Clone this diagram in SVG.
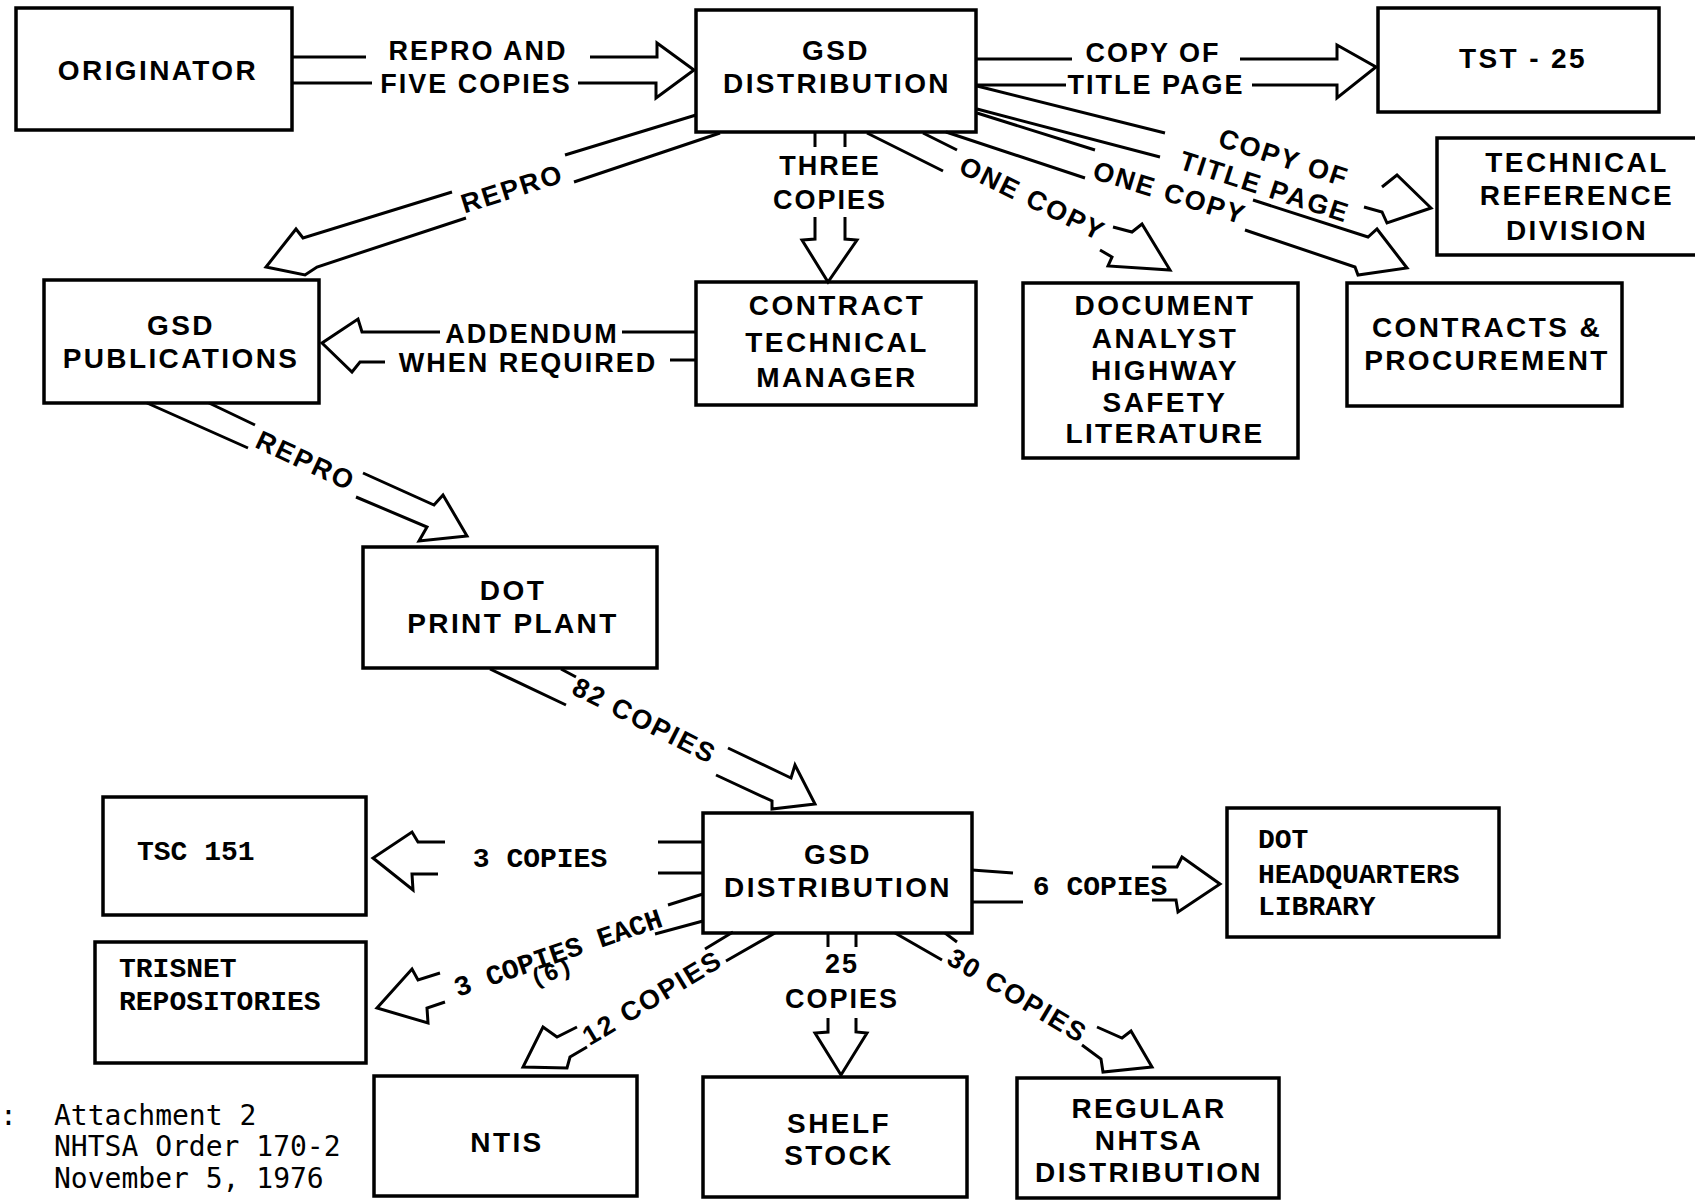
<svg xmlns="http://www.w3.org/2000/svg" width="1695" height="1201" viewBox="0 0 1695 1201">
<style>
.box{fill:none;stroke:#000;stroke-width:3.5}
.c{fill:none;stroke:#000;stroke-width:3;stroke-linejoin:miter;stroke-linecap:butt}
.t{font-family:"Liberation Sans",Arial,sans-serif;font-weight:bold;font-size:28px;letter-spacing:2.4px;fill:#000;text-anchor:middle}
.l{font-family:"Liberation Sans",Arial,sans-serif;font-weight:bold;font-size:27px;letter-spacing:2px;fill:#000;text-anchor:middle}
.m{font-family:"Liberation Mono","Courier New",monospace;font-weight:bold;font-size:28px;fill:#000}
.f{font-family:"DejaVu Sans Mono",monospace;font-size:28px;fill:#000}
</style>
<rect width="1695" height="1201" fill="#fff"/>

<g id="originator"><rect class="box" x="16" y="8" width="276" height="122"/><text class="t" x="158" y="80">ORIGINATOR</text></g>
<g id="gsd-distribution-top"><rect class="box" x="696" y="10" width="280" height="122"/><text class="t" x="836" y="60">GSD</text><text class="t" x="837" y="93">DISTRIBUTION</text></g>
<g id="tst-25"><rect class="box" x="1378" y="8" width="281" height="104"/><text class="t" x="1523" y="68">TST - 25</text></g>
<g id="technical-reference-division"><rect class="box" x="1437" y="138" width="270" height="117"/><text class="t" x="1577" y="172">TECHNICAL</text><text class="t" x="1577" y="205">REFERENCE</text><text class="t" x="1577" y="240">DIVISION</text></g>
<g id="gsd-publications"><rect class="box" x="44" y="280" width="275" height="123"/><text class="t" x="181" y="335">GSD</text><text class="t" x="181" y="368">PUBLICATIONS</text></g>
<g id="contract-technical-manager"><rect class="box" x="696" y="282" width="280" height="123"/><text class="t" x="837" y="315">CONTRACT</text><text class="t" x="837" y="352">TECHNICAL</text><text class="t" x="837" y="387">MANAGER</text></g>
<g id="document-analyst"><rect class="box" x="1023" y="283" width="275" height="175"/><text class="t" x="1165" y="315">DOCUMENT</text><text class="t" x="1165" y="348">ANALYST</text><text class="t" x="1165" y="380">HIGHWAY</text><text class="t" x="1165" y="412">SAFETY</text><text class="t" x="1165" y="443">LITERATURE</text></g>
<g id="contracts-procurement"><rect class="box" x="1347" y="283" width="275" height="123"/><text class="t" x="1487" y="337">CONTRACTS &amp;</text><text class="t" x="1487" y="370">PROCUREMENT</text></g>
<g id="dot-print-plant"><rect class="box" x="363" y="547" width="294" height="121"/><text class="t" x="513" y="600">DOT</text><text class="t" x="513" y="633">PRINT PLANT</text></g>
<g id="gsd-distribution-bottom"><rect class="box" x="703" y="813" width="269" height="120"/><text class="t" x="838" y="864">GSD</text><text class="t" x="838" y="897">DISTRIBUTION</text></g>
<g id="tsc-151"><rect class="box" x="103" y="797" width="263" height="118"/><text class="m" x="137" y="860">TSC 151</text></g>
<g id="trisnet-repositories"><rect class="box" x="95" y="942" width="271" height="121"/><text class="m" x="119" y="977">TRISNET</text><text class="m" x="119" y="1010">REPOSITORIES</text></g>
<g id="dot-headquarters-library"><rect class="box" x="1227" y="808" width="272" height="129"/><text class="m" x="1258" y="848">DOT</text><text class="m" x="1258" y="883">HEADQUARTERS</text><text class="m" x="1258" y="915">LIBRARY</text></g>
<g id="ntis"><rect class="box" x="374" y="1076" width="263" height="120"/><text class="t" x="507" y="1152">NTIS</text></g>
<g id="shelf-stock"><rect class="box" x="703" y="1077" width="264" height="120"/><text class="t" x="839" y="1133">SHELF</text><text class="t" x="839" y="1165">STOCK</text></g>
<g id="regular-nhtsa-distribution"><rect class="box" x="1017" y="1078" width="262" height="120"/><text class="t" x="1149" y="1118">REGULAR</text><text class="t" x="1149" y="1150">NHTSA</text><text class="t" x="1149" y="1182">DISTRIBUTION</text></g>

<g id="connectors">
<path class="c" d="M292,57 H366 M590,57 H657 V43 L694,70 L656,98 V83 H578 M372,83 H292"/>
<text class="l" x="478" y="60">REPRO AND</text>
<text class="l" x="476" y="93">FIVE COPIES</text>

<path class="c" d="M977,59 H1072 M1240,59 H1337 V45 L1376,67 L1337,98 V85 H1252 M1066,85 H977"/>
<text class="l" x="1153" y="62">COPY OF</text>
<text class="l" x="1156" y="94">TITLE PAGE</text>

<path class="c" d="M696,115 L565,155 M452,192 L303,238 L296,229 L266,267 L305,275 L317,267 L466,218 M574,182 L720,133"/>
<text class="l" transform="translate(512,188) rotate(-17.5)" y="10">REPRO</text>

<path class="c" d="M977,86 L1165,133 M1382,187 L1397,175 L1431,208 L1387,223 L1382,212 L1364,207 M1160,157 L977,109"/>
<text class="l" transform="translate(1284,157) rotate(18)" y="10">COPY OF</text>
<text class="l" transform="translate(1265,186) rotate(18)" y="10">TITLE PAGE</text>

<path class="c" d="M977,113 L1095,150 M1253,200 L1368,237 L1377,229 L1407,268 L1358,275 L1355,267 L1245,230 M1085,178 L946,132"/>
<text class="l" transform="translate(1170,192) rotate(17)" y="10">ONE COPY</text>

<path class="c" d="M867,133 L943,171 M1100,250 L1112,257 L1108,266 L1170,270 L1142,224 L1132,232 L1113,227 M957,150 L923,133"/>
<text class="l" transform="translate(1033,198) rotate(26)" y="10">ONE COPY</text>

<path class="c" d="M815,132 V147 M815,217 V239 L802,240 L828,282 L857,240 L845,239 V217 M845,147 V132"/>
<text class="l" x="830" y="175">THREE</text>
<text class="l" x="830" y="209">COPIES</text>

<path class="c" d="M695,332 H622 M440,332 H362 L358,319 L322,343 L352,372 L360,362 H385 M670,360 H695"/>
<text class="l" x="532" y="343">ADDENDUM</text>
<text class="l" x="528" y="372">WHEN REQUIRED</text>

<path class="c" d="M209,403 L255,425 M363,473 L434,505 L443,495 L467,536 L419,541 L427,527 L356,497 M248,448 L147,403"/>
<text class="l" transform="translate(306,460) rotate(25)" y="10">REPRO</text>

<path class="c" d="M490,669 L566,705 M716,775 L772,801 L772,809 L815,804 L795,765 L791,778 L728,748 M576,677 L561,669"/>
<text class="l" transform="translate(645,720) rotate(27)" y="10">82 COPIES</text>

<path class="c" d="M703,842 H658 M445,842 H418 L412,832 L373,858 L413,890 L412,874 H438 M658,873 H703"/>
<text class="m" x="540" y="867" text-anchor="middle">3 COPIES</text>

<path class="c" d="M703,894 L668,905 M440,973 L418,980 L412,969 L377,1008 L428,1023 L427,1008 L445,1002 M655,934 L703,921"/>
<text class="m" transform="translate(558,953) rotate(-19)" y="9" text-anchor="middle">3 COPIES EACH</text>
<text class="m" transform="translate(551,972) rotate(-19)" y="8" text-anchor="middle" style="font-size:24px">(6)</text>

<path class="c" d="M733,932 L705,949 M577,1027 L557,1037 L543,1027 L523,1067 L567,1068 L570,1057 L587,1047 M726,961 L775,933"/>
<text class="l" transform="translate(652,997) rotate(-31)" y="10">12 COPIES</text>

<path class="c" d="M828,933 V947 M828,1018 V1032 L815,1033 L841,1075 L867,1033 L856,1032 V1018 M856,947 V933"/>
<text class="l" x="842" y="973">25</text>
<text class="l" x="842" y="1008">COPIES</text>

<path class="c" d="M895,933 L942,960 M1082,1045 L1101,1059 L1103,1072 L1152,1067 L1131,1031 L1122,1038 L1097,1027 M957,942 L945,933"/>
<text class="l" transform="translate(1018,995) rotate(31)" y="10">30 COPIES</text>

<path class="c" d="M972,870 L1013,873 M1152,867 H1177 L1182,857 L1220,884 L1178,912 L1176,900 H1152 M1023,902 H972"/>
<text class="m" x="1100" y="895" text-anchor="middle">6 COPIES</text>
</g>

<g id="footer">
<text class="f" x="0" y="1125">:</text>
<text class="f" x="54" y="1125">Attachment 2</text>
<text class="f" x="54" y="1156">NHTSA Order 170-2</text>
<text class="f" x="54" y="1188">November 5, 1976</text>
</g>
</svg>
